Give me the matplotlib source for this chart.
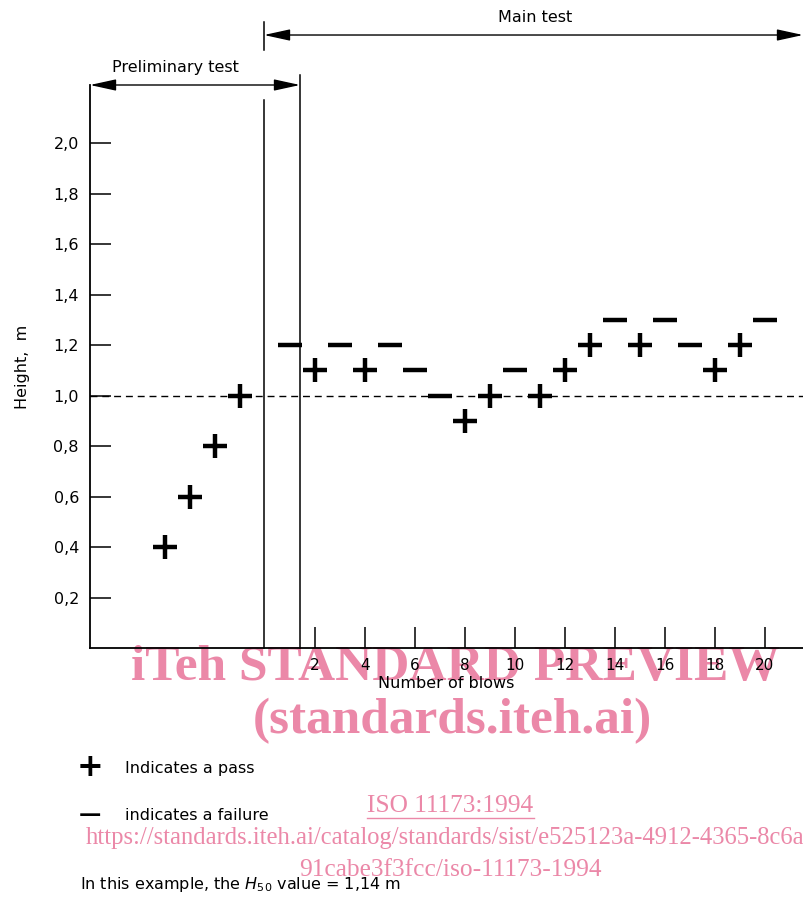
import matplotlib
matplotlib.use("Agg")
import matplotlib.pyplot as plt
from matplotlib.patches import FancyArrowPatch

# ---- data ----
prelim_blows = [-4, -3, -2, -1]
prelim_heights = [0.4, 0.6, 0.8, 1.0]
prelim_result = ["pass", "pass", "pass", "pass"]

main_blows = list(range(1, 21))
main_heights = [1.2, 1.1, 1.2, 1.1, 1.2, 1.1, 1.0, 0.9, 1.0, 1.1,
                1.0, 1.1, 1.2, 1.3, 1.2, 1.3, 1.2, 1.1, 1.2, 1.3]
main_result = ["fail", "pass", "fail", "pass", "fail", "fail", "fail", "pass", "pass", "fail",
               "pass", "pass", "pass", "fail", "pass", "fail", "fail", "pass", "pass", "fail"]

x_ticks = [2, 4, 6, 8, 10, 12, 14, 16, 18, 20]
y_ticks = [0.2, 0.4, 0.6, 0.8, 1.0, 1.2, 1.4, 1.6, 1.8, 2.0]
y_ticklabels = ["0,2", "0,4", "0,6", "0,8", "1,0", "1,2", "1,4", "1,6", "1,8", "2,0"]
h50_ref = 1.0

W, H = 804, 901
fig = plt.figure(figsize=(W / 100, H / 100), dpi=100)
plt.rcParams['font.family'] = ['DejaVu Sans']

ax = fig.add_axes([90 / W, 1 - 648 / H, (803 - 90) / W, (648 - 85) / H])
ax.set_zorder(1)
ax.patch.set_visible(False)
ax.set_xlim(-7, 21.52)
ax.set_ylim(0, 2.23)
for s in ["top", "right"]:
    ax.spines[s].set_visible(False)
for s in ["left", "bottom"]:
    ax.spines[s].set_linewidth(1.3)

ax.set_xticks(x_ticks)
ax.set_xticklabels([str(t) for t in x_ticks], fontsize=11)
ax.set_yticks(y_ticks)
ax.set_yticklabels(y_ticklabels, fontsize=11.5)
ax.tick_params(axis="both", direction="in", length=15, width=1.1, pad=8)
ax.tick_params(axis="x", pad=7)

ax.set_ylabel("Height,  m", fontsize=11.5, labelpad=17)
ax.set_xlabel("Number of blows", fontsize=11.5, labelpad=2)

# reference dashed line
ax.axhline(h50_ref, color="black", linestyle=(0, (5, 3.5)), linewidth=1.0, zorder=1)

msize = 17
mew = 3.2

def plot_points(xs, ys, res):
    for x, y, r in zip(xs, ys, res):
        m = "+" if r == "pass" else "_"
        ax.plot([x], [y], marker=m, color="black", markersize=msize,
                markeredgewidth=mew, linestyle="none", zorder=3)

plot_points(prelim_blows, prelim_heights, prelim_result)
plot_points(main_blows, main_heights, main_result)

# vertical separator lines
ax.plot([-0.04, -0.04], [0, 2.17], color="black", lw=1.1, clip_on=False)
ax.plot([-0.04, -0.04], [2.37, 2.48], color="black", lw=1.1, clip_on=False)
ax.plot([1.4, 1.4], [0, 2.27], color="black", lw=1.1, clip_on=False)

def dim_arrow(x0, x1, y):
    a = FancyArrowPatch((x0, y), (x1, y), arrowstyle="<|-|>,head_length=1.6,head_width=0.35",
                        mutation_scale=10, color="black", lw=1.0, shrinkA=0, shrinkB=0,
                        clip_on=False, transform=ax.transData)
    ax.add_patch(a)

dim_arrow(-7, 1.4, 2.23)
dim_arrow(-0.04, 21.52, 2.428)
ax.text(-3.6, 2.30, "Preliminary test", ha="center", va="center", fontsize=11.5)
ax.text(10.8, 2.497, "Main test", ha="center", va="center", fontsize=11.5)

# legend text below
fig.text(90 / W, 1 - 767 / H, "+", ha="center", va="center", fontsize=23, fontweight="bold", zorder=2)
fig.text(90 / W, 1 - 815 / H, "\u2014", ha="center", va="center", fontsize=16, fontweight="bold", zorder=2)
fig.text(125 / W, 1 - 768 / H, "Indicates a pass", ha="left", va="center", fontsize=11.5, zorder=2)
fig.text(125 / W, 1 - 815 / H, "indicates a failure", ha="left", va="center", fontsize=11.5, zorder=2)
fig.text(80 / W, 1 - 884 / H, r"In this example, the $H_{50}$ value = 1,14 m",
         ha="left", va="center", fontsize=11.5, zorder=2)

# watermark (drawn beneath the chart texts)
pink = "#eb88a8"
wz = -1
fig.text(455 / W, 1 - 668 / H, "iTeh STANDARD PREVIEW", ha="center", va="center",
         fontsize=37, fontweight="bold", family="Liberation Serif", color=pink, zorder=wz)
fig.text(452 / W, 1 - 721 / H, "(standards.iteh.ai)", ha="center", va="center",
         fontsize=37, fontweight="bold", family="Liberation Serif", color=pink, zorder=wz)
fig.text(450 / W, 1 - 806 / H, "ISO 11173:1994", ha="center", va="center",
         fontsize=18.3, family="Liberation Serif", color=pink, zorder=wz)
fig.add_artist(plt.Line2D([367 / W, 534 / W], [1 - 818 / H, 1 - 818 / H], color=pink, lw=1, zorder=wz))
fig.text(445 / W, 1 - 838 / H,
         "https://standards.iteh.ai/catalog/standards/sist/e525123a-4912-4365-8c6a",
         ha="center", va="center", fontsize=17.7, family="Liberation Serif", color=pink, zorder=wz)
fig.text(450 / W, 1 - 870 / H, "91cabe3f3fcc/iso-11173-1994", ha="center", va="center",
         fontsize=18.3, family="Liberation Serif", color=pink, zorder=wz)

fig.savefig("out.png", dpi=100)
